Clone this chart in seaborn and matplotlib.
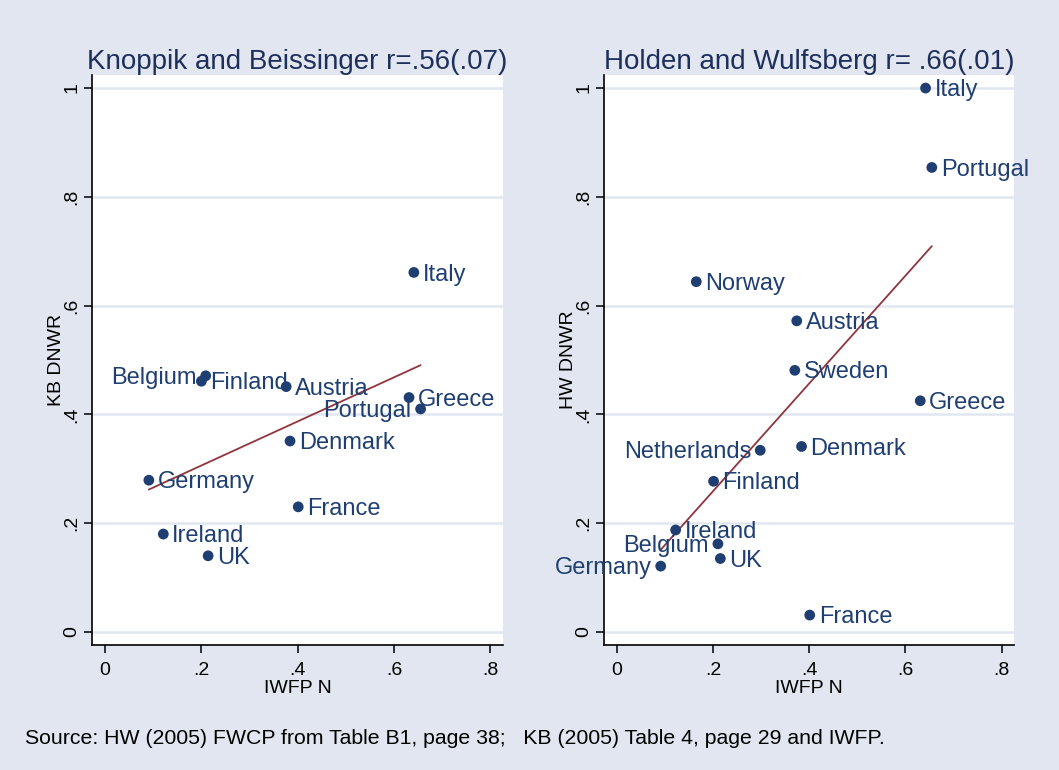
import numpy as np
import pandas as pd
import matplotlib
matplotlib.use("Agg")
import matplotlib.pyplot as plt
import seaborn as sns

# ---------------- data ----------------
kb_countries = ["Italy", "Belgium", "Finland", "Austria", "Greece", "Portugal",
                "Denmark", "Germany", "France", "Ireland", "UK"]
kb_iwfp = [0.641, 0.209, 0.200, 0.376, 0.631, 0.655, 0.384, 0.091, 0.401, 0.121, 0.214]
kb_dnwr = [0.661, 0.471, 0.461, 0.451, 0.431, 0.410, 0.351, 0.279, 0.230, 0.180, 0.140]

hw_countries = ["Italy", "Portugal", "Norway", "Austria", "Sweden", "Greece",
                "Netherlands", "Denmark", "Finland", "Ireland", "Belgium", "UK",
                "Germany", "France"]
hw_iwfp = [0.642, 0.655, 0.165, 0.374, 0.370, 0.631, 0.298, 0.384, 0.201, 0.122,
           0.210, 0.215, 0.091, 0.401]
hw_dnwr = [1.000, 0.854, 0.644, 0.572, 0.481, 0.425, 0.334, 0.341, 0.277, 0.1875,
           0.162, 0.135, 0.121, 0.031]

xtick_vals = [0, 0.2, 0.4, 0.6, 0.8]
xtick_labels = ["0", ".2", ".4", ".6", ".8"]
ytick_vals = [0, 0.2, 0.4, 0.6, 0.8, 1.0]
ytick_labels = ["0", ".2", ".4", ".6", ".8", "1"]

titles = ["Knoppik and Beissinger r=.56(.07)", "Holden and Wulfsberg r= .66(.01)"]
ylabels = ["KB DNWR", "HW DNWR"]
xlabel = "IWFP N"
note = "Source: HW (2005) FWCP from Table B1, page 38;   KB (2005) Table 4, page 29 and IWFP."

# labels placed to the left of the marker (style choice)
kb_left = {"Belgium", "Portugal"}
hw_left = {"Netherlands", "Belgium", "Germany"}

# ---------------- style ----------------
BG = "#E1E6F0"
NAVY = "#1F3F73"
TITLE_C = "#1E2F5C"
MAROON = "#90353B"
FONT = ["Liberation Sans", "DejaVu Sans"]

sns.set_theme(style="white")
plt.rcParams["font.family"] = FONT

fig = plt.figure(figsize=(10.59, 7.70), dpi=100, facecolor=BG)
W, H = 1059, 770

def make_ax(x0, x1, y0, y1):
    return fig.add_axes([x0 / W, (H - y1) / H, (x1 - x0) / W, (y1 - y0) / H])

ax_left = make_ax(92, 503, 75, 645)
ax_right = make_ax(604, 1014, 75, 645)

panels = [
    (ax_left, kb_countries, kb_iwfp, kb_dnwr, kb_left, titles[0], ylabels[0]),
    (ax_right, hw_countries, hw_iwfp, hw_dnwr, hw_left, titles[1], ylabels[1]),
]

for ax, names, xs, ys, left_set, title, ylab in panels:
    df = pd.DataFrame({"country": names, "x": xs, "y": ys})
    ax.set_facecolor("white")
    for yv in ytick_vals:
        ax.axhline(yv, color=BG, lw=1.8, zorder=0)
    sns.regplot(data=df, x="x", y="y", ax=ax, scatter=False, ci=None, truncate=True,
                line_kws={"color": MAROON, "lw": 1.3, "zorder": 2})
    sns.scatterplot(data=df, x="x", y="y", ax=ax, color=NAVY, s=60,
                    edgecolor="none", linewidth=0, zorder=3)
    for _, r in df.iterrows():
        if r["country"] in left_set:
            ax.annotate(r["country"], (r["x"], r["y"]), xytext=(-6.5, -1.5),
                        textcoords="offset points", ha="right", va="center",
                        fontsize=17, color=NAVY, zorder=4)
        else:
            ax.annotate(r["country"], (r["x"], r["y"]), xytext=(6.5, -1.5),
                        textcoords="offset points", ha="left", va="center",
                        fontsize=17, color=NAVY, zorder=4)
    ax.set_xlim(-0.027, 0.826)
    ax.set_ylim(-0.024, 1.024)
    ax.set_xticks(xtick_vals)
    ax.set_xticklabels(xtick_labels, fontsize=14, color="black")
    ax.set_yticks(ytick_vals)
    ax.set_yticklabels(ytick_labels, fontsize=14, color="black",
                       rotation=90, va="center")
    ax.tick_params(axis="both", which="both", direction="out", length=5.5,
                   width=1.1, color="black", left=True, bottom=True)
    ax.tick_params(axis="x", pad=7)
    ax.tick_params(axis="y", pad=3)
    for s in ["top", "right"]:
        ax.spines[s].set_visible(False)
    for s in ["left", "bottom"]:
        ax.spines[s].set_visible(True)
        ax.spines[s].set_color("black")
        ax.spines[s].set_linewidth(1.2)
    ax.set_xlabel(xlabel, fontsize=14, color="black", labelpad=0.5)
    ax.set_ylabel(ylab, fontsize=14, color="black", labelpad=-1)
    ax.set_title(title, fontsize=20, color=TITLE_C, pad=4)
    ax.grid(False)

fig.text(25 / W, 1 - 738 / H, note, fontsize=15.3, color="black", ha="left", va="center")

fig.savefig("out.png", dpi=100, facecolor=BG)
